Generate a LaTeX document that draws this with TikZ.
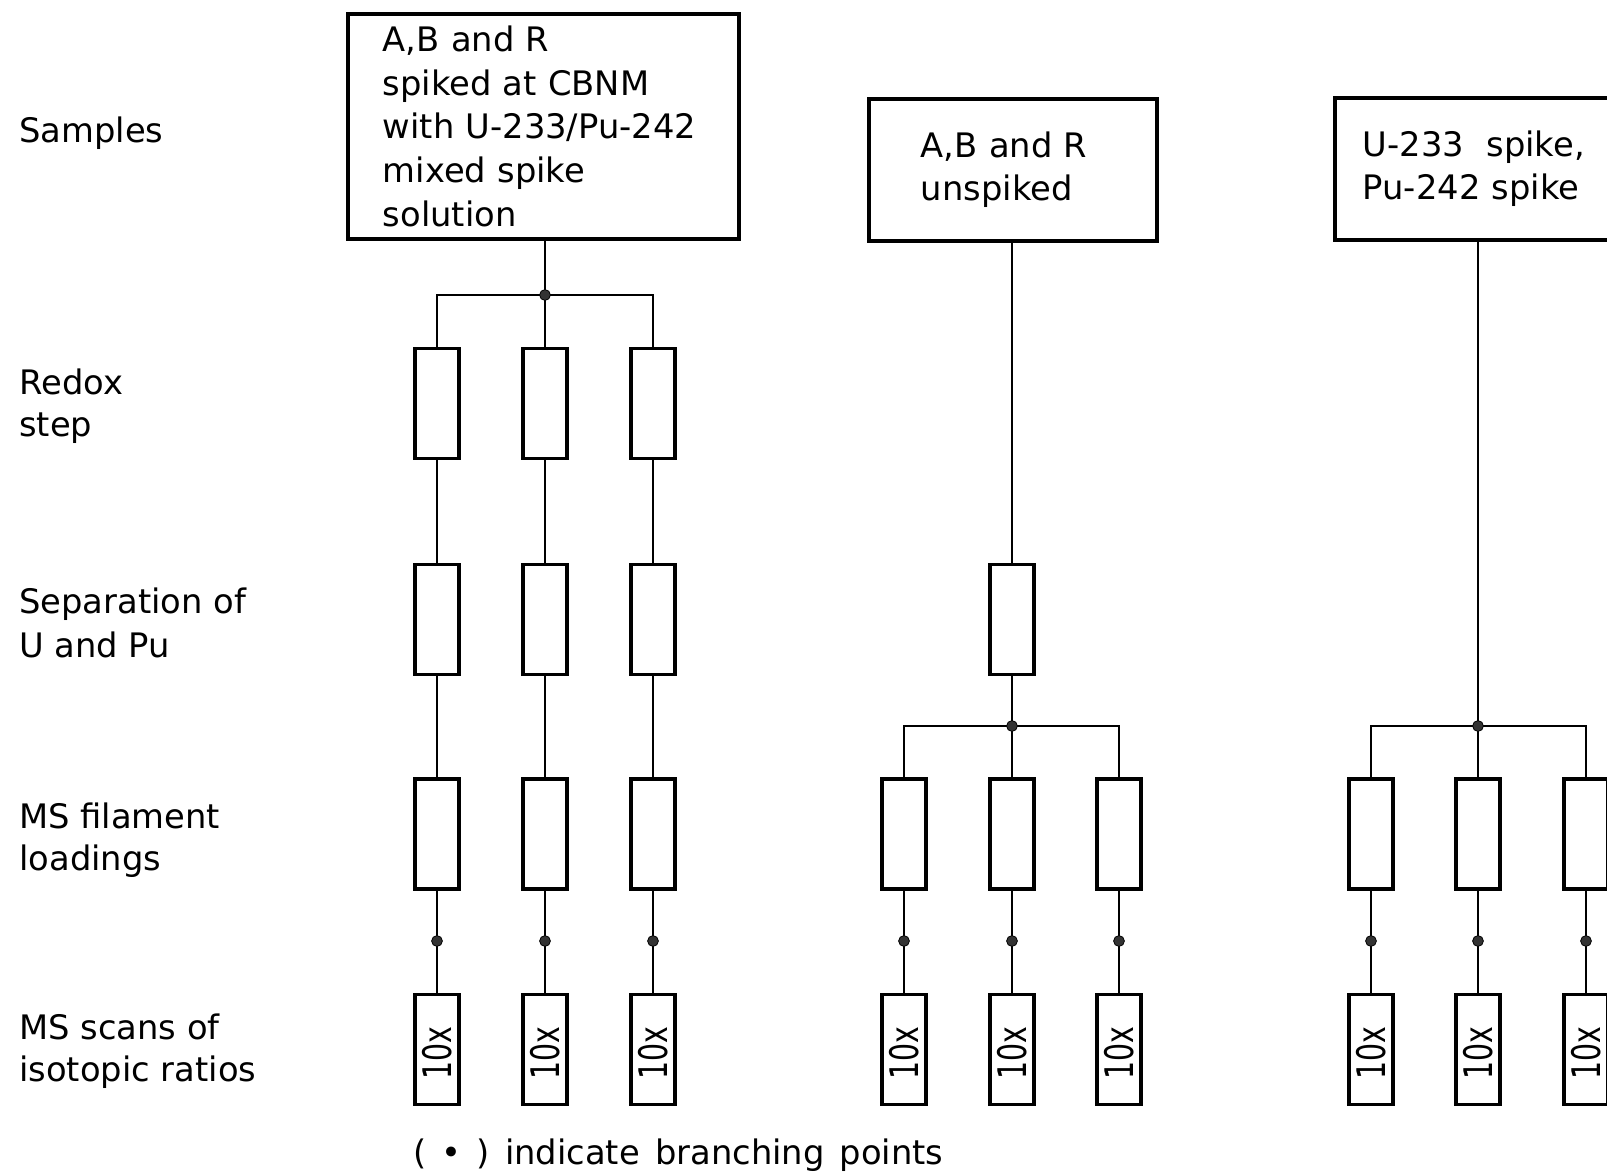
\documentclass[tikz,border=0pt]{standalone}
\usepackage{fontspec}
\setmainfont{DejaVu Sans}
\usetikzlibrary{positioning,calc}

\begin{document}
\begin{tikzpicture}[x=0.025cm,y=-0.025cm,
    boxline/.style={line width=0.09cm},
    frame/.style={draw,boxline,align=left,anchor=north west,inner ysep=0pt,font=\fontsize{24}{31}\selectfont},
    stepbox/.style={draw,boxline,minimum width=1.1cm,minimum height=2.75cm,inner sep=0pt},
    scanbox/.style={stepbox,font=\fontsize{28}{30}\selectfont},
    link/.style={line width=0.05cm},
    branchdot/.style={circle,fill=black!80,draw=black,line width=0.02cm,minimum size=0.27cm,inner sep=0pt},
    hdr/.style={anchor=west,align=left,inner sep=0pt,font=\fontsize{24}{29.5}\selectfont},
]

\useasboundingbox (0,0) rectangle (1607,1175);
\clip (0,0) rectangle (1607,1175);

% ---------- Row labels ----------
\node[hdr] (lsamp) at (19,133) {Samples};
\node[hdr] (lredox) at (19,406) {Redox\\step};
\node[hdr] (lsep) at (19,623) {Separation of\\[2pt]U and Pu};
\node[hdr] (lfil) at (19,840) {MS filament\\loadings};
\node[hdr] (lscan) at (19,1051) {MS scans of\\isotopic ratios};

% ---------- Sample boxes ----------
\node[frame,inner xsep=0.875cm,text width=8.025cm,minimum height=5.625cm] (s1) at (346,12)
  {A,B and R\\spiked at CBNM\\with U-233/Pu-242\\mixed spike\\solution};
\node[frame,inner xsep=1.3cm,text width=4.6cm,minimum height=3.55cm] (s2) at (867,97)
  {A,B and R\\unspiked};
\node[frame,inner xsep=0.7cm,text width=6.6cm,minimum height=3.55cm] (s3) at (1333,96)
  {U-233 \ spike,\\Pu-242 spike};

% ---------- Redox and separation (spiked samples) ----------
\foreach \c/\x in {1/437,2/545,3/653}{
  \node[stepbox] (rx\c) at (\x,403.5) {};
  \node[stepbox] (sep\c) at (\x,619.5) {};
  \draw[link] (rx\c.south) -- (sep\c.north);
}
\node[stepbox] (sep5) at (1012,619.5) {};

% ---------- Filament loadings, scans ----------
\foreach \c/\x in {1/437,2/545,3/653,4/904,5/1012,6/1119,7/1371,8/1478,9/1586}{
  \node[stepbox] (fil\c) at (\x,834) {};
  \node[scanbox] (scan\c) at (\x,1049.5) {\rotatebox{90}{\scalebox{0.72}[1]{10x\hspace{8pt}}}};
  \draw[link] (fil\c.south) -- (scan\c.north);
  \node[branchdot] (dot\c) at (\x,941) {};
}
\foreach \c in {1,2,3}{
  \draw[link] (sep\c.south) -- (fil\c.north);
}

% ---------- Branching ----------
\coordinate (b1) at (545,295);
\coordinate (b2) at (1012,726);
\coordinate (b3) at (1478,726);

\draw[link] (s1.south -| b1) -- (b1);
\draw[link] (rx1.north) |- (b1) -| (rx3.north);
\draw[link] (b1) -- (rx2.north);

\draw[link] (s2.south -| sep5) -- (sep5.north);
\draw[link] (sep5.south) -- (b2);
\draw[link] (fil4.north) |- (b2) -| (fil6.north);
\draw[link] (b2) -- (fil5.north);

\draw[link] (s3.south -| b3) -- (b3);
\draw[link] (fil7.north) |- (b3) -| (fil9.north);
\draw[link] (b3) -- (fil8.north);

\foreach \b in {1,2,3}{
  \node[branchdot] at (b\b) {};
}

% ---------- Caption ----------
\node[hdr] (note) at (413,1155) {\spaceskip=0.45em ( • ) indicate branching points};

\end{tikzpicture}
\end{document}
